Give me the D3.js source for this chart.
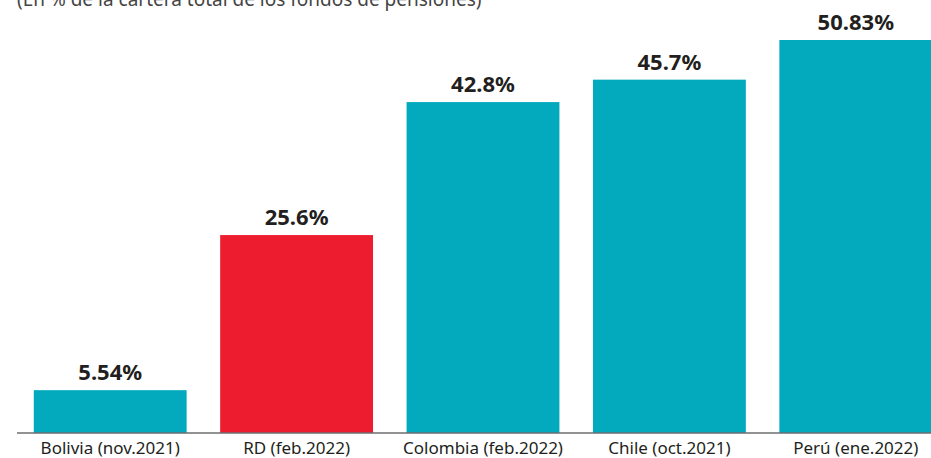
<!DOCTYPE html>
<html>
<head>
<meta charset="utf-8">
<script src="https://cdn.jsdelivr.net/npm/d3@7"></script>
<style>
  html, body { margin: 0; padding: 0; background: #fff; }
  svg { display: block; font-family: "Noto Sans", sans-serif; }
</style>
</head>
<body>
<svg id="chart"></svg>
<script>
(function (d3) {

    /***** Data *****/
    var categories = ["Bolivia (nov.2021)", "RD (feb.2022)", "Colombia (feb.2022)", "Chile (oct.2021)", "Perú (ene.2022)"];
    var values = [5.54, 25.6, 42.8, 45.7, 50.83];
    var valueLabels = ["5.54%", "25.6%", "42.8%", "45.7%", "50.83%"];
    var highlight = "RD (feb.2022)";
    var subtitle = "(En % de la cartera total de los fondos de pensiones)";

    /***** Configuration *****/
    var width = 931, height = 458;
    var baseY = 433;
    var teal = "#03a9bd", red = "#ed1c2e";

    var svg = d3.select("#chart").attr("width", width).attr("height", height);

    /***** Scales *****/
    var x = d3.scaleBand()
        .domain(categories)
        .range([17, 949])
        .paddingInner(0.18)
        .paddingOuter(0.09);
    var y = d3.scaleLinear().domain([0, 50.83]).range([baseY, 40]);

    /***** Subtitle (cut at the top edge, as in the source) *****/
    svg.append("text")
        .attr("x", 17)
        .attr("y", 6)
        .attr("font-size", 19)
        .attr("fill", "#444")
        .text(subtitle);

    /***** Bars *****/
    svg.selectAll("rect.bar")
        .data(values)
        .enter().append("rect")
        .attr("class", "bar")
        .attr("x", function (d, i) { return x(categories[i]); })
        .attr("y", function (d) { return y(d); })
        .attr("width", x.bandwidth())
        .attr("height", function (d) { return baseY - y(d); })
        .attr("fill", function (d, i) { return categories[i] === highlight ? red : teal; });

    svg.selectAll("text.val")
        .data(values)
        .enter().append("text")
        .attr("class", "val")
        .attr("x", function (d, i) { return x(categories[i]) + x.bandwidth() / 2; })
        .attr("y", function (d) { return y(d) - 10; })
        .attr("text-anchor", "middle")
        .attr("font-size", 22)
        .attr("font-weight", "bold")
        .attr("fill", "#231f20")
        .text(function (d, i) { return valueLabels[i]; });

    /***** Axis *****/
    var xAxis = d3.axisBottom(x).tickSize(0).tickPadding(9);
    var axisG = svg.append("g")
        .attr("transform", "translate(0," + baseY + ")")
        .call(xAxis);
    axisG.select(".domain").remove();
    axisG.append("line")
        .attr("x1", 17).attr("x2", width)
        .attr("stroke", "#6d6e71")
        .attr("stroke-width", 1.5);
    axisG.selectAll(".tick text")
        .attr("font-family", "\"Noto Sans\", sans-serif")
        .attr("font-size", 17)
        .attr("fill", "#231f20");

})(d3);
</script>
</body>
</html>
